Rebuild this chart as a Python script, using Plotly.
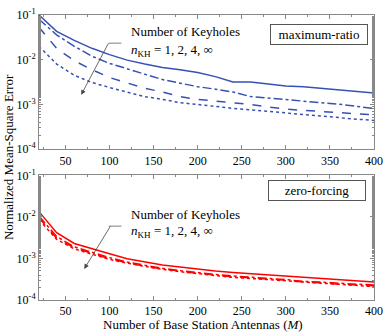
"""MSE vs number of BS antennas, keyhole channels"""

import plotly.graph_objects as go
from plotly.subplots import make_subplots

antennas = [20, 40, 60, 80, 100, 120, 140, 160, 180, 200,
            220, 240, 260, 280, 300, 320, 340, 360, 380, 400]

# maximum-ratio, n_KH = 1, 2, 4, inf
mr_kh1 = [0.100, 0.043, 0.027, 0.018, 0.013, 0.0098, 0.0080, 0.0067, 0.0060, 0.0052,
          0.0042, 0.0032, 0.0032, 0.0029, 0.0026, 0.0025, 0.0023, 0.0022, 0.0020, 0.0018]
mr_kh2 = [0.080, 0.036, 0.020, 0.012, 0.0083, 0.0063, 0.0046, 0.0036, 0.0030, 0.0025,
          0.0022, 0.0019, 0.0015, 0.0014, 0.0013, 0.0012, 0.0011, 0.00102, 0.00092, 0.00081]
mr_kh4 = [0.053, 0.018, 0.0095, 0.0060, 0.0040, 0.0030, 0.0023, 0.0019, 0.0015, 0.0013,
          0.0012, 0.00108, 0.00100, 0.00088, 0.00079, 0.00074, 0.00069, 0.00065, 0.00062, 0.00059]
mr_khinf = [0.020, 0.0080, 0.0045, 0.0031, 0.0024, 0.0019, 0.0015, 0.0013, 0.0011, 0.00100,
            0.00090, 0.00082, 0.00076, 0.00070, 0.00065, 0.00060, 0.00054, 0.00050, 0.00047, 0.00044]

# zero-forcing, n_KH = 1, 2, 4, inf
zf_kh1 = [0.0134, 0.0042, 0.0023, 0.0017, 0.0013, 0.00098, 0.00083, 0.00070, 0.00062, 0.00055,
          0.00050, 0.00046, 0.00043, 0.00040, 0.00038, 0.00035, 0.00033, 0.00031, 0.00029, 0.00027]
zf_kh2 = [0.0105, 0.0034, 0.0019, 0.0014, 0.00105, 0.00082, 0.00068, 0.00058, 0.00051, 0.00045,
          0.00041, 0.00038, 0.00035, 0.00033, 0.00031, 0.00028, 0.00027, 0.00025, 0.00024, 0.00023]
zf_kh4 = [0.0095, 0.0031, 0.0018, 0.0013, 0.00098, 0.00079, 0.00065, 0.00056, 0.00049, 0.00044,
          0.00040, 0.00036, 0.00034, 0.00032, 0.00030, 0.00027, 0.00026, 0.00024, 0.00023, 0.00022]
zf_khinf = [0.0085, 0.0029, 0.0017, 0.00125, 0.00095, 0.00077, 0.00064, 0.00055, 0.00048, 0.00043,
            0.00039, 0.00035, 0.00033, 0.00031, 0.00029, 0.00027, 0.00025, 0.00024, 0.00022, 0.00021]

x_ticks = [50, 100, 150, 200, 250, 300, 350, 400]
y_ticks = [1e-4, 1e-3, 1e-2, 1e-1]
y_ticktext = ["10<sup>-4</sup>", "10<sup>-3</sup>", "10<sup>-2</sup>", "10<sup>-1</sup>"]

BLUE = "rgb(55,80,180)"
RED = "rgb(255,0,0)"
FONT = "Liberation Serif, Times New Roman, serif"
dashes = ["solid", "dashdot", "dash", "dot"]

fig = make_subplots(rows=2, cols=1)

for series, dash in zip([mr_kh1, mr_kh2, mr_kh4, mr_khinf], dashes):
    fig.add_trace(go.Scatter(x=antennas, y=series, mode="lines",
                             line=dict(color=BLUE, width=1.5, dash=dash)), row=1, col=1)
for series, dash in zip([zf_kh1, zf_kh2, zf_kh4, zf_khinf], dashes):
    fig.add_trace(go.Scatter(x=antennas, y=series, mode="lines",
                             line=dict(color=RED, width=1.5, dash=dash)), row=2, col=1)

axis_common = dict(showline=True, linecolor="#888", linewidth=1, mirror="ticks",
                   ticks="inside", ticklen=4, tickcolor="#888", showgrid=False,
                   zeroline=False, tickfont=dict(family=FONT, size=12, color="black"))
for row in (1, 2):
    fig.update_xaxes(range=[20, 400], tickvals=x_ticks,
                     minor=dict(ticks="inside", ticklen=2, dtick=25, tickcolor="#888"),
                     row=row, col=1, **axis_common)
    fig.update_yaxes(type="log", range=[-4, -1], tickvals=y_ticks, ticktext=y_ticktext,
                     minor=dict(ticks="inside", ticklen=2, tickcolor="#888"),
                     row=row, col=1, **axis_common)

fig.update_layout(
    width=390, height=332,
    margin=dict(l=39, r=10, t=7, b=32),
    paper_bgcolor="white", plot_bgcolor="white",
    showlegend=False,
    font=dict(family=FONT, size=12, color="black"),
)
fig.layout.yaxis.domain = [0.529, 1.0]
fig.layout.yaxis2.domain = [0.0, 0.437]

txt = dict(family=FONT, size=13, color="black")
for y_title, y_n, box_text, box_x, box_y, tip, tail_off, seg_y in [
    (0.942, 0.877, "maximum-ratio", 0.837, 0.933, (0.126, 0.720), (28, -53), 0.901),
    (0.300, 0.239, "zero-forcing", 0.830, 0.384, (0.135, 0.109), (27, -44), 0.259),
]:
    fig.add_annotation(x=0.270, y=y_title, xref="paper", yref="paper", text="Number of Keyholes",
                       showarrow=False, xanchor="left", yanchor="middle", font=txt)
    fig.add_annotation(x=0.270, y=y_n, xref="paper", yref="paper",
                       text="<i>n</i><sub>KH</sub> = 1, 2, 4, ∞",
                       showarrow=False, xanchor="left", yanchor="middle", font=txt)
    fig.add_annotation(x=box_x, y=box_y, xref="paper", yref="paper", text=box_text,
                       showarrow=False, xanchor="center", yanchor="middle", font=txt,
                       bordercolor="#555", borderwidth=1, borderpad=2, bgcolor="white", width=92)
    fig.add_annotation(x=tip[0], y=tip[1], xref="paper", yref="paper", text="",
                       showarrow=True, ax=tail_off[0], ay=tail_off[1],
                       arrowhead=2, arrowsize=1.2, arrowwidth=0.8, arrowcolor="#444")
    fig.add_shape(type="line", xref="paper", yref="paper",
                  x0=0.208, x1=0.246, y0=seg_y, y1=seg_y,
                  line=dict(color="#aaa", width=1.5))

fig.add_annotation(x=-0.091, y=0.5, xref="paper", yref="paper",
                   text="Normalized Mean-Square Error", textangle=-90,
                   xanchor="center", yanchor="middle", showarrow=False, font=txt)
fig.add_annotation(x=0.49, y=-0.086, xref="paper", yref="paper",
                   text="Number of Base Station Antennas (<i>M</i>)",
                   xanchor="center", yanchor="middle", showarrow=False, font=txt)

fig.write_html("out.html", config={"displayModeBar": False},
               post_script="document.body.style.margin='0';")
